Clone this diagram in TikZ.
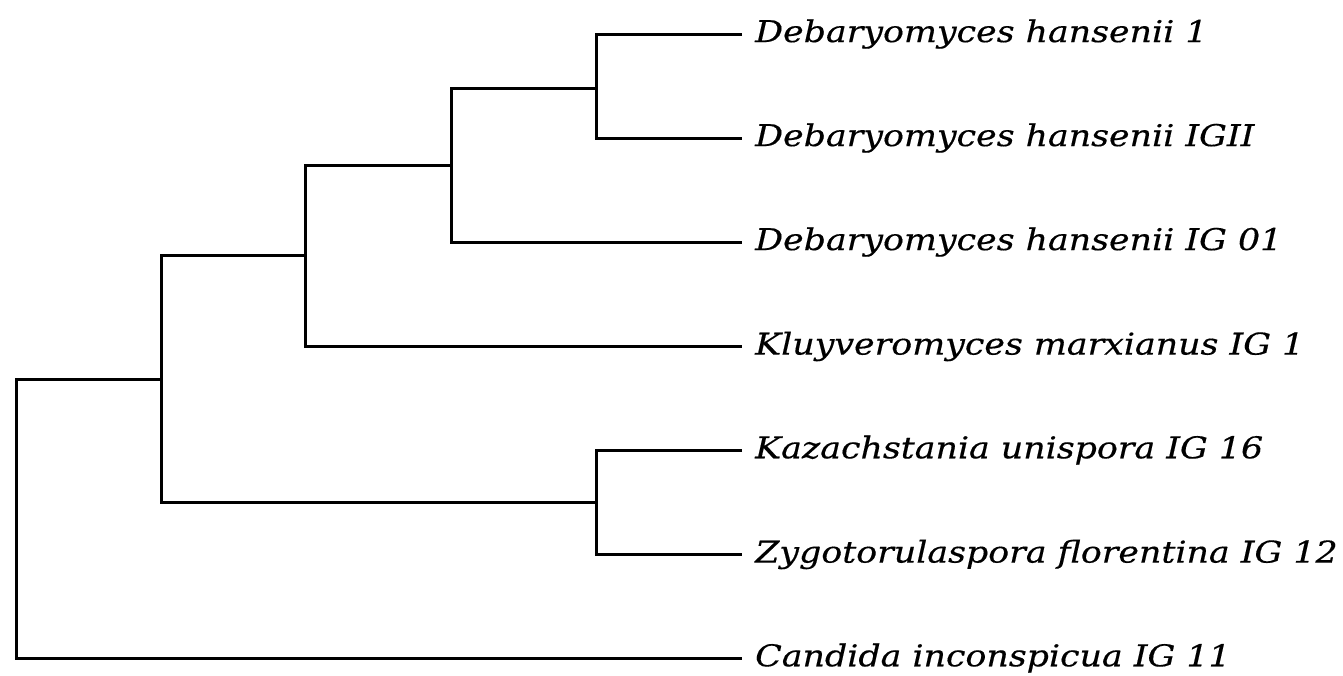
\documentclass[tikz,border=0pt]{standalone}
\usepackage{fontspec}
\setmainfont{DejaVu Serif}
\newfontfamily\taxonfont{DejaVu Serif}[FakeStretch=1.16,FakeBold=0.4]
\begin{document}
\begin{tikzpicture}[x=1pt,y=-1pt,
  branch/.style={line width=3pt,line join=miter},
  taxon/.style={anchor=west,inner xsep=13pt,inner ysep=0pt,
    font=\taxonfont\fontsize{30}{36}\selectfont\itshape}]
\useasboundingbox (0,0) rectangle (1343,675);
% leaves
\node[taxon] (dh1)  at (742,34)    {Debaryomyces hansenii 1};
\node[taxon] (dh2)  at (742,138)   {Debaryomyces hansenii IGII};
\node[taxon] (dh3)  at (742,242)   {Debaryomyces hansenii IG 01};
\node[taxon] (km)   at (742,346.5) {Kluyveromyces marxianus IG 1};
\node[taxon] (ku)   at (742,450)   {Kazachstania unispora IG 16};
\node[taxon] (zf)   at (742,554.5) {Zygotorulaspora florentina IG 12};
\node[taxon] (ci)   at (742,658)   {Candida inconspicua IG 11};
% internal nodes
\coordinate (nA) at (596,88);
\coordinate (nB) at (451,165);
\coordinate (nC) at (305,255.5);
\coordinate (nD) at (596,502.5);
\coordinate (nE) at (161,379);
\coordinate (nR) at (16,379);
% branches
\draw[branch] (dh1.west) -| (nA) |- (dh2.west);
\draw[branch] (nA) -| (nB) |- (dh3.west);
\draw[branch] (nB) -| (nC) |- (km.west);
\draw[branch] (ku.west) -| (nD) |- (zf.west);
\draw[branch] (nC) -| (nE) |- (nD);
\draw[branch] (nE) -- (nR) |- (ci.west);
\end{tikzpicture}
\end{document}
